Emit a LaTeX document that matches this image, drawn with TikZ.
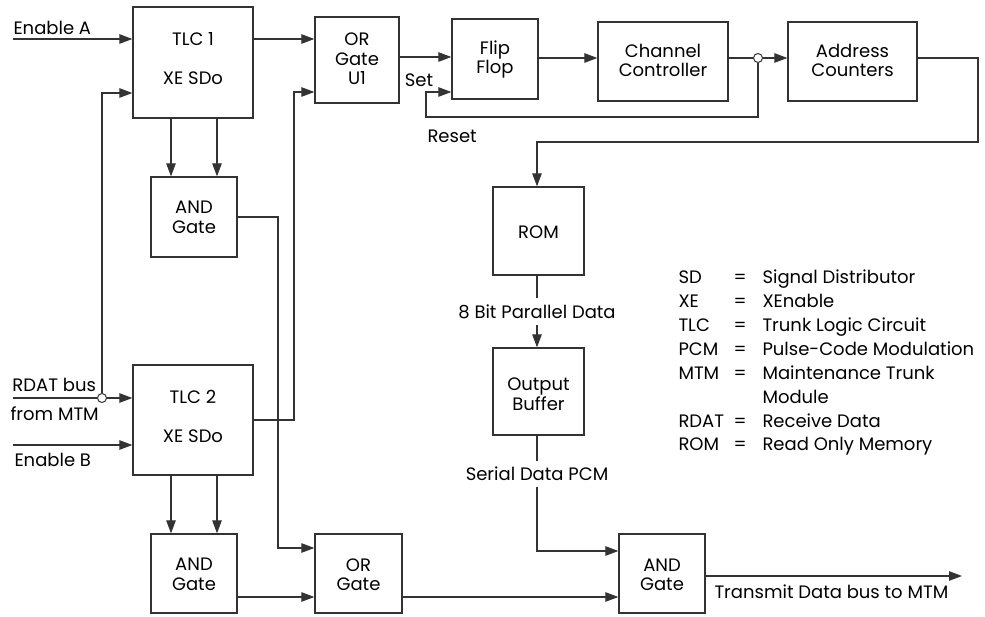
\documentclass[tikz,border=0pt]{standalone}
\usepackage{fontspec}
\setmainfont{Poppins}
\usetikzlibrary{arrows.meta,calc}
\begin{document}
\begin{tikzpicture}[x=1pt,y=-1pt,
  line width=1pt,
  lin/.style={draw=black!80, line width=1.1pt},
  arr/.style={lin, -{Triangle[length=13pt,width=9.5pt]}},
  box/.style={draw=black!80, line width=1.3pt, rectangle, inner sep=0pt},
  txt/.style={font=\fontsize{18}{19.5}\selectfont, align=center, inner sep=0pt, text=black},
  lbl/.style={font=\fontsize{18}{19.5}\selectfont, inner sep=0pt, text=black},
  jn/.style={circle, draw=black!80, line width=1pt, fill=white, minimum size=9pt, inner sep=0pt}
]
\useasboundingbox (0,0) rectangle (985,617);
% boxes
\node[box, minimum width=120pt, minimum height=111pt] (tlc1) at (193,62.5) {};
\node[box, minimum width=86pt, minimum height=80pt] (and1) at (194,217) {};
\node[box, minimum width=84pt, minimum height=86pt] (oru1) at (357,60) {};
\node[box, minimum width=86pt, minimum height=80pt] (ff) at (495,59) {};
\node[box, minimum width=130pt, minimum height=79pt] (cc) at (663,61.5) {};
\node[box, minimum width=129pt, minimum height=79pt] (ac) at (852.5,61.5) {};
\node[box, minimum width=91pt, minimum height=88pt] (rom) at (538.5,231) {};
\node[box, minimum width=91pt, minimum height=87pt] (ob) at (538.5,391.5) {};
\node[box, minimum width=120pt, minimum height=110pt] (tlc2) at (193,420) {};
\node[box, minimum width=86pt, minimum height=79pt] (and2) at (194,573.5) {};
\node[box, minimum width=87pt, minimum height=79pt] (or2) at (358.5,573.5) {};
\node[box, minimum width=86pt, minimum height=79pt] (and3) at (662,573.5) {};
% box texts
\node[txt] (t1a) at (193,39) {TLC 1};
\node[txt] (t1b) at (193,78) {XE SDo};
\node[txt] (t2a) at (193,397) {TLC 2};
\node[txt] (t2b) at (193,436) {XE SDo};
\node[txt] (ta1) at (194,217.5) {AND\\Gate};
\node[txt] (ta2) at (194,574.5) {AND\\Gate};
\node[txt] (ta3) at (662,575) {AND\\Gate};
\node[txt] (to2) at (358.5,574.5) {OR\\Gate};
\node[txt] (tou1) at (357,59) {OR\\Gate\\U1};
\node[txt] (tff) at (495,59.5) {Flip\\Flop};
\node[txt] (tcc) at (663,60.5) {Channel\\Controller};
\node[txt] (tac) at (852.5,60.5) {Address\\Counters};
\node[txt] (trom) at (538.5,232) {ROM};
\node[txt] (tob) at (538.5,394) {Output\\Buffer};
% junctions
\node[jn] (c1) at (102,398) {};
\node[jn] (c2) at (758,58) {};
% inputs
\coordinate (ea) at (13,39);
\coordinate (rd) at (13,398);
\coordinate (eb) at (13,445);
\draw[arr] (ea) -- (tlc1.west |- ea);
\node[lbl, anchor=south west] (lea) at (13,35) {Enable A};
\draw[lin] (rd) -- (c1.west);
\draw[arr] (c1.east) -- (tlc2.west |- c1);
\draw[arr] (c1.north) |- (tlc1.west |- 0,93);
\node[lbl, anchor=south west] (lrd) at (12,392) {RDAT bus};
\node[lbl, anchor=north west] (lfm) at (10,406) {from MTM};
\draw[arr] (eb) -- (tlc2.west |- eb);
\node[lbl, anchor=north west] (leb) at (14,453) {Enable B};
% TLC to AND
\draw[arr] (tlc1.south -| 171,0) -- (and1.north -| 171,0);
\draw[arr] (tlc1.south -| 217,0) -- (and1.north -| 217,0);
\draw[arr] (tlc2.south -| 171,0) -- (and2.north -| 171,0);
\draw[arr] (tlc2.south -| 217,0) -- (and2.north -| 217,0);
% to OR gates
\draw[arr] (tlc1.east |- 0,39) -- (oru1.west |- 0,39);
\coordinate (j2) at (294,92);
\draw[arr] (tlc2.east) -| (j2) -- (oru1.west |- j2);
\coordinate (j1) at (278,548);
\draw[arr] (and1.east) -| (j1) -- (or2.west |- j1);
\draw[arr] (and2.east |- 0,597) -- (or2.west |- 0,597);
\draw[arr] (or2.east |- 0,597) -- (and3.west |- 0,597);
% top chain
\draw[arr] (oru1.east |- 0,57) -- (ff.west |- 0,57);
\node[lbl] (lset) at (419,80) {Set};
\draw[arr] (ff.east |- 0,58) -- (cc.west |- 0,58);
\draw[lin] (cc.east |- c2) -- (c2.west);
\draw[arr] (c2.east) -- (ac.west |- c2);
\coordinate (r1) at (426,117);
\draw[arr] (c2.south) |- (r1) |- (ff.west |- 0,92);
\node[lbl, anchor=west] (lrs) at (427,136) {Reset};
\coordinate (k1) at (978,58);
\coordinate (k2) at (978,142);
\draw[arr] (ac.east |- k1) -- (k1) -- (k2) -| (rom.north -| 537,0);
% ROM chain
\draw[arr] (rom.south -| 537,0) -- node[lbl, fill=white, inner ysep=6pt, inner xsep=0pt] (l8) {8 Bit Parallel Data} (ob.north -| 537,0);
\coordinate (s1) at (537,551);
\draw[arr] (ob.south -| s1) -- (s1) -- (and3.west |- s1);
\node[lbl, fill=white, inner ysep=6pt] (lsd) at (537,474) {Serial Data PCM};
\coordinate (out) at (962,576);
\draw[arr] (and3.east |- out) -- (out);
\node[lbl, anchor=west] (ltx) at (714,592) {Transmit Data bus to MTM};
% legend
\foreach \a/\d/\y [count=\i] in {SD/Signal Distributor/277, XE/XEnable/301, TLC/Trunk Logic Circuit/325, PCM/Pulse-Code Modulation/349, MTM/Maintenance Trunk/373, RDAT/Receive Data/421, ROM/Read Only Memory/444}{
  \node[lbl, anchor=base west] (la\i) at (678,\y+6.5) {\a};
  \node[lbl, anchor=base] (le\i) at (740,\y+6.5) {=};
  \node[lbl, anchor=base west] (ld\i) at (762,\y+6.5) {\d};
}
\node[lbl, anchor=base west] (ldm) at (762,403.5) {Module};
\end{tikzpicture}
\end{document}
